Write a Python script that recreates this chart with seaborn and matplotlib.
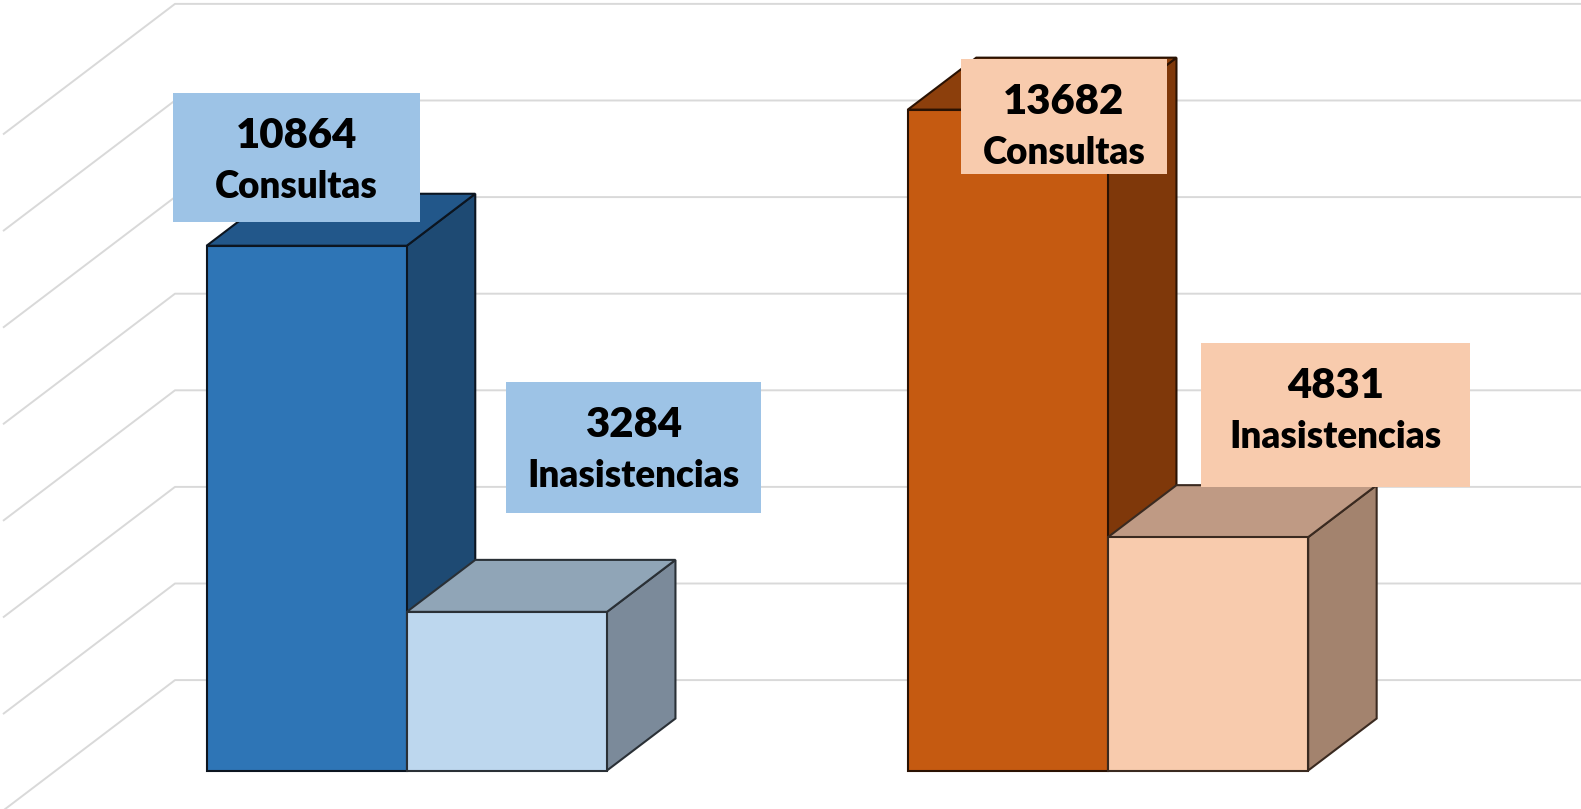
import matplotlib
matplotlib.use("Agg")
import matplotlib.pyplot as plt
from matplotlib.patches import Polygon, Rectangle
import seaborn as sns
import pandas as pd

# datos
grupos = ["Grupo 1", "Grupo 2"]
tipos = ["Consultas", "Inasistencias"]
consultas = [10864, 13682]
inasistencias = [3284, 4831]
niveles = [2000, 4000, 6000, 8000, 10000, 12000, 14000, 16000]

df = pd.DataFrame({
    "grupo": grupos * 2,
    "tipo": [tipos[0]] * 2 + [tipos[1]] * 2,
    "valor": consultas + inasistencias,
})

# colores por barra (izq -> der): frente, techo, lateral
frentes = ["#2E75B6", "#BDD7EE", "#C55A11", "#F8CBAD"]
techos = ["#22578A", "#90A5B7", "#8C3F0C", "#BF9A84"]
laterales = ["#1E4A73", "#7B8A9A", "#7F380A", "#A3836E"]
bordes = ["#0c1520", "#2a3036", "#2a1203", "#3a2a20"]
cajas = ["#9DC3E6", "#9DC3E6", "#F8CBAD", "#F8CBAD"]
# caja de etiqueta en px relativo al centro-techo de la barra: izq, der, arriba, abajo
cajas_px = [(-133.7, 113.3, 152.7, 23.7),
            (-0.8, 254.2, 229.6, 99.2),
            (-47.0, 159.0, 50.7, -64.7),
            (-7.0, 262.0, 194.0, 50.0)]

W, H = 1581, 809
fig = plt.figure(figsize=(W / 100, H / 100), dpi=100)
ax = fig.add_axes([0, 0, 1, 1])

sns.barplot(data=df, x="grupo", y="valor", hue="tipo", width=0.571,
            errorbar=None, legend=False, ax=ax, linewidth=1.5)

x_lo, x_hi = -0.5801, 1.6746
y_lo, y_hi = -797, 15952
ax.set_xlim(x_lo, x_hi)
ax.set_ylim(y_lo, y_hi)
ax.axis("off")

sx = (x_hi - x_lo) / W
sy = (y_hi - y_lo) / H
DX, DY = 68.5 * sx, 52 * sy

# cuadricula: pared del fondo + pared lateral
xw = x_lo + 175 * sx
k = 172 / 68.5
for v in niveles:
    yv = v - 6.2 * sy
    ax.plot([xw - k * DX, xw, x_hi], [yv - k * DY, yv, yv],
            color="#D9D9D9", lw=1.4, zorder=0, solid_capstyle="butt")

barras = sorted(ax.patches, key=lambda p: p.get_x())
valores = [consultas[0], inasistencias[0], consultas[1], inasistencias[1]]
nombres = [tipos[0], tipos[1], tipos[0], tipos[1]]

for i, p in enumerate(barras):
    x0, y0 = p.get_x(), p.get_y()
    x1, h = x0 + p.get_width(), y0 + p.get_height()
    z = 2 + i * 3
    lado = Polygon([(x1, y0), (x1 + DX, y0 + DY), (x1 + DX, h + DY), (x1, h)],
                   closed=True, facecolor=laterales[i], edgecolor=bordes[i],
                   lw=1.5, zorder=z)
    techo = Polygon([(x0, h), (x1, h), (x1 + DX, h + DY), (x0 + DX, h + DY)],
                    closed=True, facecolor=techos[i], edgecolor=bordes[i],
                    lw=1.5, zorder=z + 0.5)
    ax.add_patch(lado)
    ax.add_patch(techo)
    p.set_facecolor(frentes[i])
    p.set_edgecolor(bordes[i])
    p.set_zorder(z + 1)

    # etiqueta
    cx = x0 + p.get_width() / 2
    l, r, t, b = cajas_px[i]
    top = h + t * sy
    ax.add_patch(Rectangle((cx + l * sx, h + b * sy), (r - l) * sx, (t - b) * sy,
                           facecolor=cajas[i], edgecolor="none", zorder=20))
    mx = cx + (l + r) / 2 * sx
    ax.text(mx, top - 55 * sy, f"{valores[i]}", ha="center", va="baseline",
            fontsize=30.2, fontweight="heavy", family="Lato", color="black", zorder=21)
    ax.text(mx, top - 104.7 * sy, nombres[i], ha="center", va="baseline",
            fontsize=26.5, fontweight="heavy", family="Lato", color="black", zorder=21)

fig.savefig("out.png", dpi=100)
